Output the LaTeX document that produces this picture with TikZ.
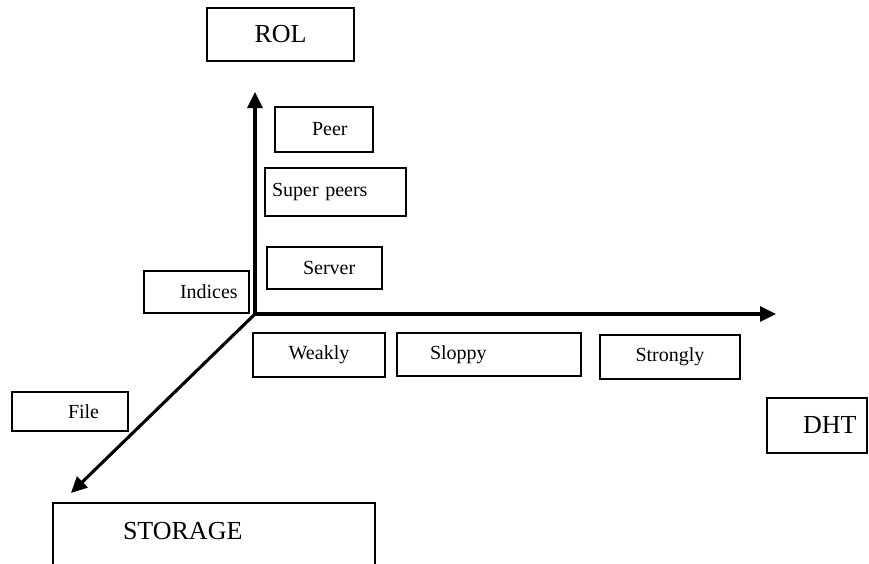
\documentclass[tikz,border=0pt]{standalone}
\usepackage{fontspec}
\setmainfont{Liberation Serif}
\usetikzlibrary{arrows.meta}
\begin{document}
\begin{tikzpicture}[x=1pt,y=-1pt,
  bx/.style={draw, line width=1.8pt, rectangle, inner ysep=0pt, align=left},
  sm/.style={font=\fontsize{20}{24}\selectfont},
  lg/.style={font=\fontsize{26}{30}\selectfont},
  axis/.style={line width=3.1pt, -{Triangle[length=16pt,width=15pt]}}]
\useasboundingbox (0,0) rectangle (869,563);
\clip (0,0) rectangle (869,563);
% axis end points
\coordinate (O) at (255,314);
\coordinate (ytip) at (255,92);
\coordinate (xtip) at (776,314);
\coordinate (ztip) at (71,493);
\draw[axis] (O) -- (ytip);
\draw[axis] (O) -- (xtip);
\draw[axis] (O) -- (ztip);
% boxes
\node[bx, lg, align=center, text width=131pt, inner xsep=8pt, minimum height=53pt] (rol) at (280.5,34.5) {ROL};
\node[bx, sm, text width=24pt, inner xsep=37pt, minimum height=45pt] (peer) at (324,129.5) {Peer};
\node[bx, sm, text width=127pt, inner xsep=7pt, minimum height=48pt] (super) at (335.5,192) {Super peers};
\node[bx, sm, text width=43pt, inner xsep=36pt, minimum height=42pt] (server) at (324.5,268) {Server};
\node[bx, sm, text width=33pt, inner xsep=36pt, minimum height=42pt] (indices) at (196.5,292) {Indices};
\node[bx, sm, align=center, text width=116pt, inner xsep=8pt, minimum height=44pt] (weakly) at (319,355) {Weakly};
\node[bx, sm, text width=118pt, inner xsep=33pt, minimum height=43pt] (sloppy) at (489,354.5) {Sloppy};
\node[bx, sm, align=center, text width=124pt, inner xsep=8pt, minimum height=44pt] (strongly) at (670,357) {Strongly};
\node[bx, sm, text width=4pt, inner xsep=56pt, minimum height=39pt] (file) at (70,411.5) {File};
\node[bx, lg, text width=28pt, inner xsep=36pt, minimum height=55pt] (dht) at (817,425.5) {DHT};
\node[bx, lg, anchor=north, text width=182pt, inner xsep=70pt, text height=36.5pt, text depth=43.5pt] (storage) at (214,502) {STORAGE};
\end{tikzpicture}
\end{document}
